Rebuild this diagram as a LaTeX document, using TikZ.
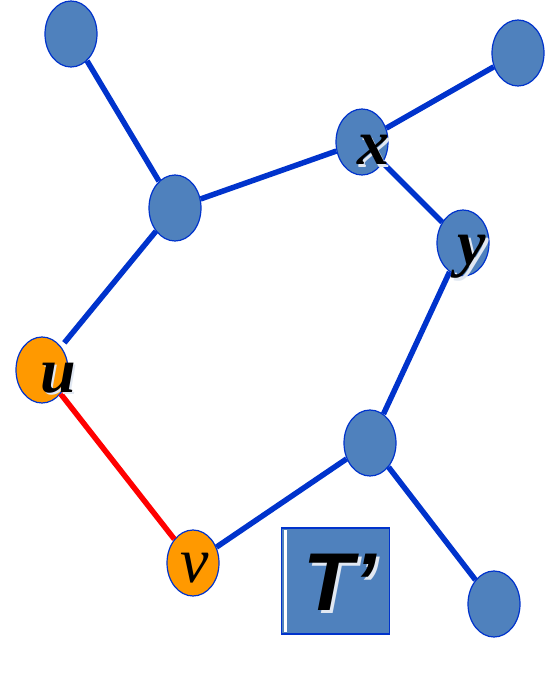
\documentclass[tikz,border=0pt]{standalone}
\usepackage{fontspec}
\setmainfont{Liberation Serif}
\newfontfamily\tfont{Liberation Sans}
\usetikzlibrary{shapes.geometric}
\definecolor{edgeblue}{RGB}{0,51,204}
\definecolor{nodefill}{RGB}{79,129,189}
\definecolor{orangefill}{RGB}{255,153,0}
\definecolor{redline}{RGB}{255,0,0}
\definecolor{glow}{RGB}{225,232,242}
\tikzset{
  vert/.style={ellipse, draw=edgeblue, line width=1.2pt, fill=nodefill, minimum width=52pt, minimum height=66pt, inner sep=0pt},
  overt/.style={vert, fill=orangefill},
  edge/.style={draw=edgeblue, line width=5.5pt},
  redge/.style={draw=redline, line width=5.5pt},
  lab/.style={inner sep=0pt, font=\fontsize{64}{70}\selectfont\bfseries\itshape},
  labr/.style={inner sep=0pt, font=\fontsize{64}{70}\selectfont\itshape},
  shad/.style={text=glow},
  tfnt/.style={inner sep=0pt, font=\tfont\fontsize{82}{90}\selectfont\bfseries\itshape}
}
\begin{document}
\begin{tikzpicture}[x=1pt,y=-1pt]
\useasboundingbox (0,0) rectangle (544,679);
% vertices
\node[vert] (tl) at (71,34) {};
\node[vert] (tr) at (518,53) {};
\node[vert] (a) at (175,208) {};
\node[vert] (x) at (362,142) {};
\node[vert] (y) at (463,243) {};
\node[overt] (u) at (42,370) {};
\node[overt] (v) at (193,563) {};
\node[vert] (b) at (370,443) {};
\node[vert] (br) at (494,604) {};
% edges
\draw[edge] (tl) -- (a);
\draw[edge] (a) -- (x);
\draw[edge] (x) -- (tr);
\draw[edge] (x) -- (y);
\draw[edge, shorten >=5pt] (a) -- (u);
\draw[redge] (u) -- (v);
\draw[edge] (y) -- (b);
\draw[edge] (b) -- (v);
\draw[edge] (b) -- (br);
% labels with light shadow
\node[lab, shad] (us) at (60.5,380.5) {u};
\node[lab] (ul) at (58,378) {u};
\node[lab, shad] (xs) at (375.5,152.5) {x};
\node[lab] (xl) at (373,150) {x};
\node[lab, shad] (ys) at (474.5,259.5) {y};
\node[lab] (yl) at (472,257) {y};
\node[labr] (vl) at (195,568) {v};
% T' box
\node[draw=edgeblue, line width=1.5pt, fill=nodefill, minimum width=108pt, minimum height=106pt, inner sep=0pt] (tbox) at (335.5,581) {};
\fill[white] (284,530) rectangle (287,632);
\node[tfnt, shad] (ts) at (343,585) {T’};
\node[tfnt] (tl2) at (340,582) {T’};
\end{tikzpicture}
\end{document}
